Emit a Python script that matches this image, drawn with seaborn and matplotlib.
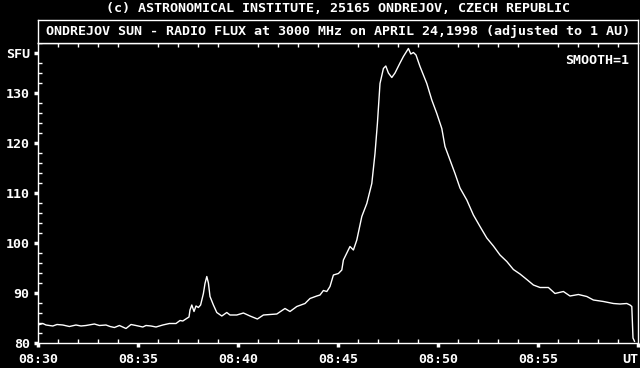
import matplotlib
matplotlib.use("Agg")
import matplotlib.pyplot as plt
import seaborn as sns
import pandas as pd
from matplotlib.ticker import FixedLocator, MultipleLocator

# ---- data (minutes after 08:30 UT, flux in SFU) ----
minutes = [0.0, 0.24, 0.4, 0.74, 0.95, 1.24, 1.57, 1.9, 2.15, 2.4, 2.82, 3.07, 3.4, 3.6,
           3.82, 4.07, 4.4, 4.65, 4.9, 5.24, 5.4, 5.65, 5.9, 6.24, 6.57, 6.9, 7.1, 7.24,
           7.43, 7.55, 7.6, 7.69, 7.8, 7.9, 8.02, 8.13, 8.27, 8.35, 8.44, 8.52, 8.6, 8.77,
           8.94, 9.19, 9.44, 9.6, 9.94, 10.27, 10.6, 10.97, 11.27, 11.6, 11.94, 12.35, 12.6,
           12.94, 13.35, 13.6, 13.94, 14.1, 14.27, 14.44, 14.6, 14.77, 15.02, 15.19, 15.27,
           15.6, 15.77, 15.94, 16.19, 16.44, 16.69, 16.85, 16.97, 17.1, 17.27, 17.39, 17.52,
           17.69, 17.85, 18.1, 18.27, 18.52, 18.64, 18.77, 18.9, 19.1, 19.27, 19.44, 19.69,
           19.94, 20.19, 20.35, 20.6, 20.85, 21.1, 21.44, 21.77, 22.1, 22.44, 22.77, 23.1,
           23.44, 23.77, 24.1, 24.44, 24.77, 25.1, 25.52, 25.85, 26.27, 26.6, 27.02, 27.44,
           27.77, 28.27, 28.77, 29.1, 29.44, 29.6, 29.69, 29.75, 29.83]
flux = [83.6, 83.9, 83.6, 83.4, 83.7, 83.6, 83.3, 83.6, 83.4, 83.5, 83.8, 83.5, 83.6, 83.3,
        83.1, 83.5, 82.9, 83.7, 83.5, 83.2, 83.5, 83.4, 83.2, 83.6, 83.9, 83.9, 84.5, 84.4,
        84.9, 85.2, 86.6, 87.6, 86.3, 87.4, 87.1, 87.6, 89.9, 91.9, 93.3, 92.0, 89.3, 87.6,
        86.1, 85.4, 86.1, 85.6, 85.6, 86.0, 85.4, 84.8, 85.6, 85.7, 85.8, 86.9, 86.3,
        87.3, 87.9, 88.9, 89.4, 89.6, 90.5, 90.3, 91.3, 93.6, 93.9, 94.6, 96.6,
        99.3, 98.6, 100.6, 105.3, 107.9, 111.9, 117.9, 123.9, 131.9, 134.9, 135.4, 134.0,
        133.1, 134.0, 136.0, 137.3, 138.9, 137.8, 138.1, 137.6, 135.3, 133.6, 131.9, 128.6,
        125.9, 122.9, 119.3, 116.6, 113.9, 111.0, 108.6, 105.6, 103.3, 101.0, 99.4, 97.6,
        96.3, 94.7, 93.8, 92.7, 91.6, 91.1, 91.1, 89.9, 90.3, 89.4, 89.7, 89.3,
        88.6, 88.3, 87.9, 87.8, 87.9, 87.6, 87.3, 81.0, 80.3]

xtick_pos = [0, 5, 10, 15, 20, 25, 30]
xtick_labels = ["08:30", "08:35", "08:40", "08:45", "08:50", "08:55", "UT"]
ytick_pos = [80, 90, 100, 110, 120, 130, 138]
ytick_labels = ["80", "90", "100", "110", "120", "130", "SFU"]

title_top = "(c) ASTRONOMICAL INSTITUTE, 25165 ONDREJOV, CZECH REPUBLIC"
title_box = "ONDREJOV SUN - RADIO FLUX at 3000 MHz on APRIL 24,1998 (adjusted to 1 AU)"
note = "SMOOTH=1"

df = pd.DataFrame({"minutes": minutes, "flux": flux})

sns.set_theme(style="dark")
plt.rcParams["font.family"] = ["DejaVu Sans Mono"]
plt.rcParams["font.weight"] = "bold"
FS = 9.6
W, H = 640, 368

fig = plt.figure(figsize=(W / 100, H / 100), dpi=100, facecolor="black")

ax = fig.add_axes([38 / W, 1 - 343 / H, 600 / W, 300 / H])
ax.set_facecolor("black")
sns.lineplot(data=df, x="minutes", y="flux", ax=ax, color="white", linewidth=1.0,
             estimator=None, sort=False)
ax.set_xlim(0, 30)
ax.set_ylim(80, 140)
ax.set_xlabel("")
ax.set_ylabel("")
ax.grid(False)
for s in ax.spines.values():
    s.set_color("white")
    s.set_linewidth(1.0)
    s.set_visible(True)

ax.xaxis.set_major_locator(FixedLocator(xtick_pos))
ax.set_xticklabels(xtick_labels)
ax.xaxis.set_minor_locator(MultipleLocator(1))
ax.yaxis.set_major_locator(FixedLocator(ytick_pos))
ax.set_yticklabels(ytick_labels)
ax.yaxis.set_minor_locator(MultipleLocator(2))

ax.tick_params(axis="both", which="major", direction="out", length=3, width=2.5,
               color="white", labelcolor="white", labelsize=FS)
ax.tick_params(axis="x", which="major", pad=4, bottom=True, top=False)
ax.tick_params(axis="y", which="major", pad=3, left=True, right=False)
ax.tick_params(axis="both", which="minor", direction="in", length=3, width=1,
               color="white")
ax.tick_params(axis="x", which="minor", bottom=True, top=True)
ax.tick_params(axis="y", which="minor", left=True, right=False)
ax.xaxis.get_majorticklabels()[-1].set_horizontalalignment("right")

ax.text((629 - 38) / 600, (343 - 60) / 300, note, transform=ax.transAxes,
        ha="right", va="center", color="white", fontsize=FS)

# title box
tax = fig.add_axes([38 / W, 1 - 43 / H, 600 / W, 23 / H])
tax.set_facecolor("black")
tax.set_xticks([])
tax.set_yticks([])
for s in tax.spines.values():
    s.set_color("white")
    s.set_linewidth(1.0)
tax.text(0.5, 0.5, title_box, ha="center", va="center", color="white", fontsize=FS,
         transform=tax.transAxes)

fig.text(338 / W, 1 - 9 / H, title_top, ha="center", va="center", color="white",
         fontsize=FS)

fig.savefig("out.png", dpi=100, facecolor="black")
